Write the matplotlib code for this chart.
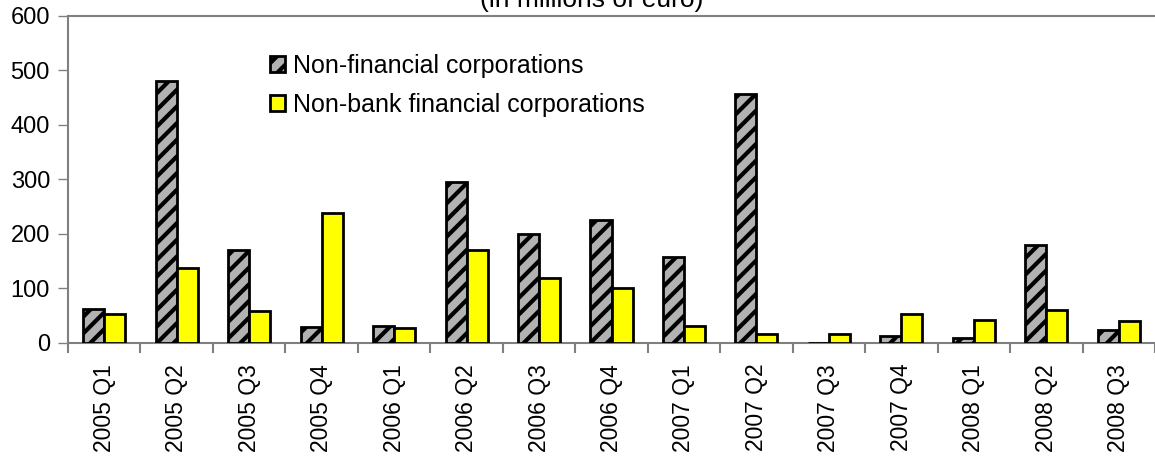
import numpy as np
import matplotlib
matplotlib.use("Agg")
import matplotlib.pyplot as plt

# quarterly values, millions of euro
quarters = ["2005 Q1", "2005 Q2", "2005 Q3", "2005 Q4", "2006 Q1", "2006 Q2",
            "2006 Q3", "2006 Q4", "2007 Q1", "2007 Q2", "2007 Q3", "2007 Q4",
            "2008 Q1", "2008 Q2", "2008 Q3"]
non_financial = [63, 480, 170, 30, 31, 296, 200, 226, 157, 457, 0, 12, 10, 180, 23]
non_bank_financial = [53, 138, 58, 238, 28, 170, 120, 101, 31, 17, 17, 53, 43, 60, 40]

plt.rcParams['font.family'] = ['Liberation Sans', 'DejaVu Sans']
plt.rcParams['hatch.linewidth'] = 3.0
plt.rcParams['hatch.color'] = 'black'

fig = plt.figure(figsize=(11.55, 4.58), dpi=100)
ax = fig.add_axes([0.0589, 0.2511, 0.9411, 0.714])

x = np.arange(len(quarters))
w = 0.29
ax.bar(x - w/2, non_financial, w, color='#b2b2b2', edgecolor='black',
       linewidth=2, hatch='//', label='Non-financial corporations', zorder=3)
ax.bar(x + w/2, non_bank_financial, w, color='#ffff00', edgecolor='black',
       linewidth=2, label='Non-bank financial corporations', zorder=3)

ax.set_xlim(-0.5, len(quarters) - 0.5)
ax.set_ylim(0, 600)
ax.set_yticks(range(0, 601, 100))
ax.tick_params(axis='y', labelsize=17, length=7, width=1, color='#808080',
               direction='out', pad=6)

# category boundary ticks on the x axis, labels centred under each group
ax.set_xticks(np.arange(len(quarters) + 1) - 0.5)
ax.set_xticklabels([])
ax.set_xticks(x, minor=True)
ax.set_xticklabels(quarters, minor=True, rotation=90, fontsize=16.5)
ax.tick_params(axis='x', which='major', length=7, width=1.5, color='#808080')
ax.tick_params(axis='x', which='minor', length=0, pad=15)

for s in ['left', 'top', 'bottom']:
    ax.spines[s].set_color('#808080')
    ax.spines[s].set_linewidth(1.5)
ax.spines['right'].set_visible(False)

fig.text(0.5125, 1.0, '(in millions of euro)', ha='center', va='center', fontsize=19)

leg = ax.legend(loc='upper left', bbox_to_anchor=(0.177, 0.915), frameon=False,
                fontsize=18, handlelength=0.6, handleheight=0.6,
                handletextpad=0.3, labelspacing=0.6, borderaxespad=0)

fig.savefig('out.png', dpi=100)
